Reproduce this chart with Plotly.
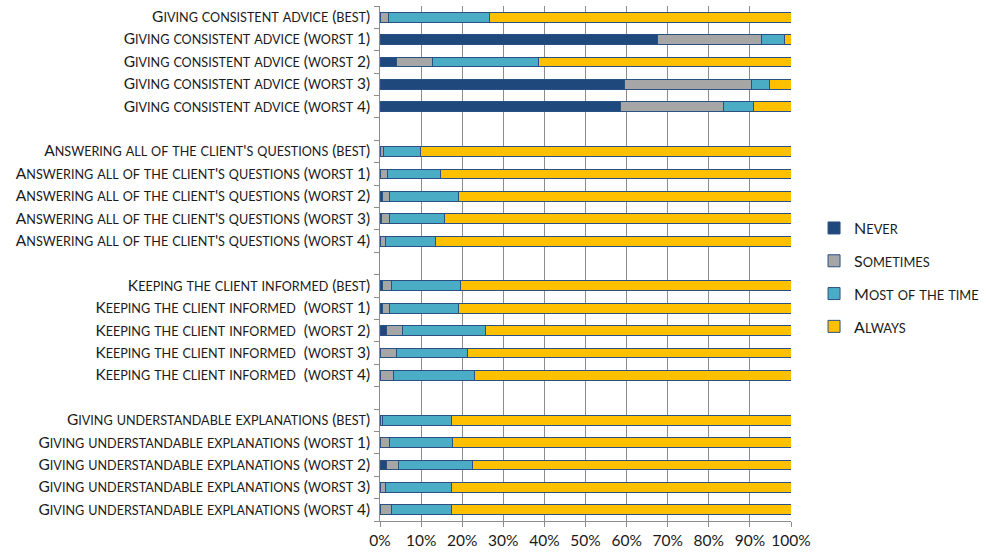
import re
import plotly.graph_objects as go

# Row labels, top to bottom; empty strings separate the four groups
labels = [
    "Giving consistent advice (best)",
    "Giving consistent advice (worst 1)",
    "Giving consistent advice (worst 2)",
    "Giving consistent advice (worst 3)",
    "Giving consistent advice (worst 4)",
    "",
    "Answering all of the client's questions (best)",
    "Answering all of the client's questions (worst 1)",
    "Answering all of the client's questions (worst 2)",
    "Answering all of the client's questions (worst 3)",
    "Answering all of the client's questions (worst 4)",
    "",
    "Keeping the client informed (best)",
    "Keeping the client informed  (worst 1)",
    "Keeping the client informed  (worst 2)",
    "Keeping the client informed  (worst 3)",
    "Keeping the client informed  (worst 4)",
    "",
    "Giving understandable explanations (best)",
    "Giving understandable explanations (worst 1)",
    "Giving understandable explanations (worst 2)",
    "Giving understandable explanations (worst 3)",
    "Giving understandable explanations (worst 4)",
]

# Shares in percent per response (None on spacer rows)
never = [0, 67.4, 3.9, 59.5, 58.5, None,
         0, 0, 0.6, 0.3, 0, None,
         0.5, 0.5, 1.5, 0.2, 0, None,
         0, 0, 1.5, 0.2, 0]
sometimes = [2.0, 25.3, 8.8, 30.9, 25.0, None,
             0.8, 1.8, 1.6, 1.9, 1.4, None,
             2.3, 1.7, 3.9, 3.9, 3.4, None,
             0.6, 2.2, 3.0, 1.2, 2.8]
most_of_the_time = [24.6, 5.8, 25.8, 4.4, 7.3, None,
                    9.0, 12.9, 16.9, 13.6, 12.0, None,
                    16.9, 16.8, 20.2, 17.3, 19.6, None,
                    16.7, 15.5, 17.9, 15.9, 14.5]
always = [73.4, 1.5, 61.5, 5.2, 9.2, None,
          90.2, 85.3, 80.9, 84.2, 86.6, None,
          80.3, 81.0, 74.4, 78.6, 77.0, None,
          82.7, 82.3, 77.6, 82.7, 82.7]

series_names = ["Never", "Sometimes", "Most of the time", "Always"]
series_values = [never, sometimes, most_of_the_time, always]
series_colors = ["#1F497D", "#A6A6A6", "#4BACC6", "#FFC000"]

x_ticks = [0, 10, 20, 30, 40, 50, 60, 70, 80, 90, 100]
x_tick_text = [f"{v}%" for v in x_ticks]


def small_caps(text, big, small):
    """Render text in small capitals using sized spans."""
    parts = re.findall(r"[a-z]+|[^a-z]+", text)
    out = []
    for p in parts:
        if p[0].islower():
            out.append(f'<span style="font-size:{small}px">{p.upper()}</span>')
        else:
            q = p.replace("  ", "&nbsp; ")
            out.append(f'<span style="font-size:{big}px">{q}</span>')
    return "".join(out)


# Unique category keys (spacer rows get distinct whitespace keys)
cats = []
n_blank = 0
for lab in labels:
    if lab == "":
        n_blank += 1
        cats.append(" " * n_blank)
    else:
        cats.append(lab)

tick_text = [small_caps(l, 15.5, 12.6) if l else "" for l in labels]

fig = go.Figure()
for i, (name, vals, col) in enumerate(zip(series_names, series_values, series_colors)):
    fig.add_trace(go.Bar(
        y=cats,
        x=vals,
        orientation="h",
        name=small_caps(name, 16, 12.8),
        legendgroup=f"g{i}",
        marker=dict(color=col, line=dict(color="#2B5083", width=1)),
        width=0.44,
        hoverinfo="x+name",
    ))

fig.update_layout(
    barmode="stack",
    width=986,
    height=554,
    margin=dict(l=380, r=195, t=6, b=33, autoexpand=False),
    paper_bgcolor="white",
    plot_bgcolor="white",
    font=dict(family="Lato, Carlito, Calibri, sans-serif", color="#1a1a1a", size=14),
    legend=dict(
        xref="container", yref="container",
        x=0.8256, xanchor="left",
        y=0.619, yanchor="top",
        traceorder="grouped",
        tracegroupgap=9,
        font=dict(size=16),
        bgcolor="rgba(0,0,0,0)",
    ),
    xaxis=dict(
        range=[0, 100],
        tickvals=x_ticks,
        ticktext=x_tick_text,
        showgrid=True,
        gridcolor="#8C8C8C",
        gridwidth=1,
        zeroline=False,
        showline=True,
        linecolor="#8C8C8C",
        linewidth=1,
        ticks="outside",
        ticklen=5,
        tickcolor="#8C8C8C",
        tickfont=dict(size=15.5),
        automargin=False,
        mirror=False,
    ),
    yaxis=dict(
        type="category",
        categoryorder="array",
        categoryarray=cats,
        tickvals=cats,
        ticktext=tick_text,
        autorange="reversed",
        tickson="boundaries",
        ticks="outside",
        ticklen=5,
        tickcolor="#8C8C8C",
        showgrid=False,
        showline=True,
        linecolor="#8C8C8C",
        linewidth=1,
        zeroline=False,
        automargin=False,
        ticklabelstandoff=6,
    ),
)

fig.write_html("out.html")
